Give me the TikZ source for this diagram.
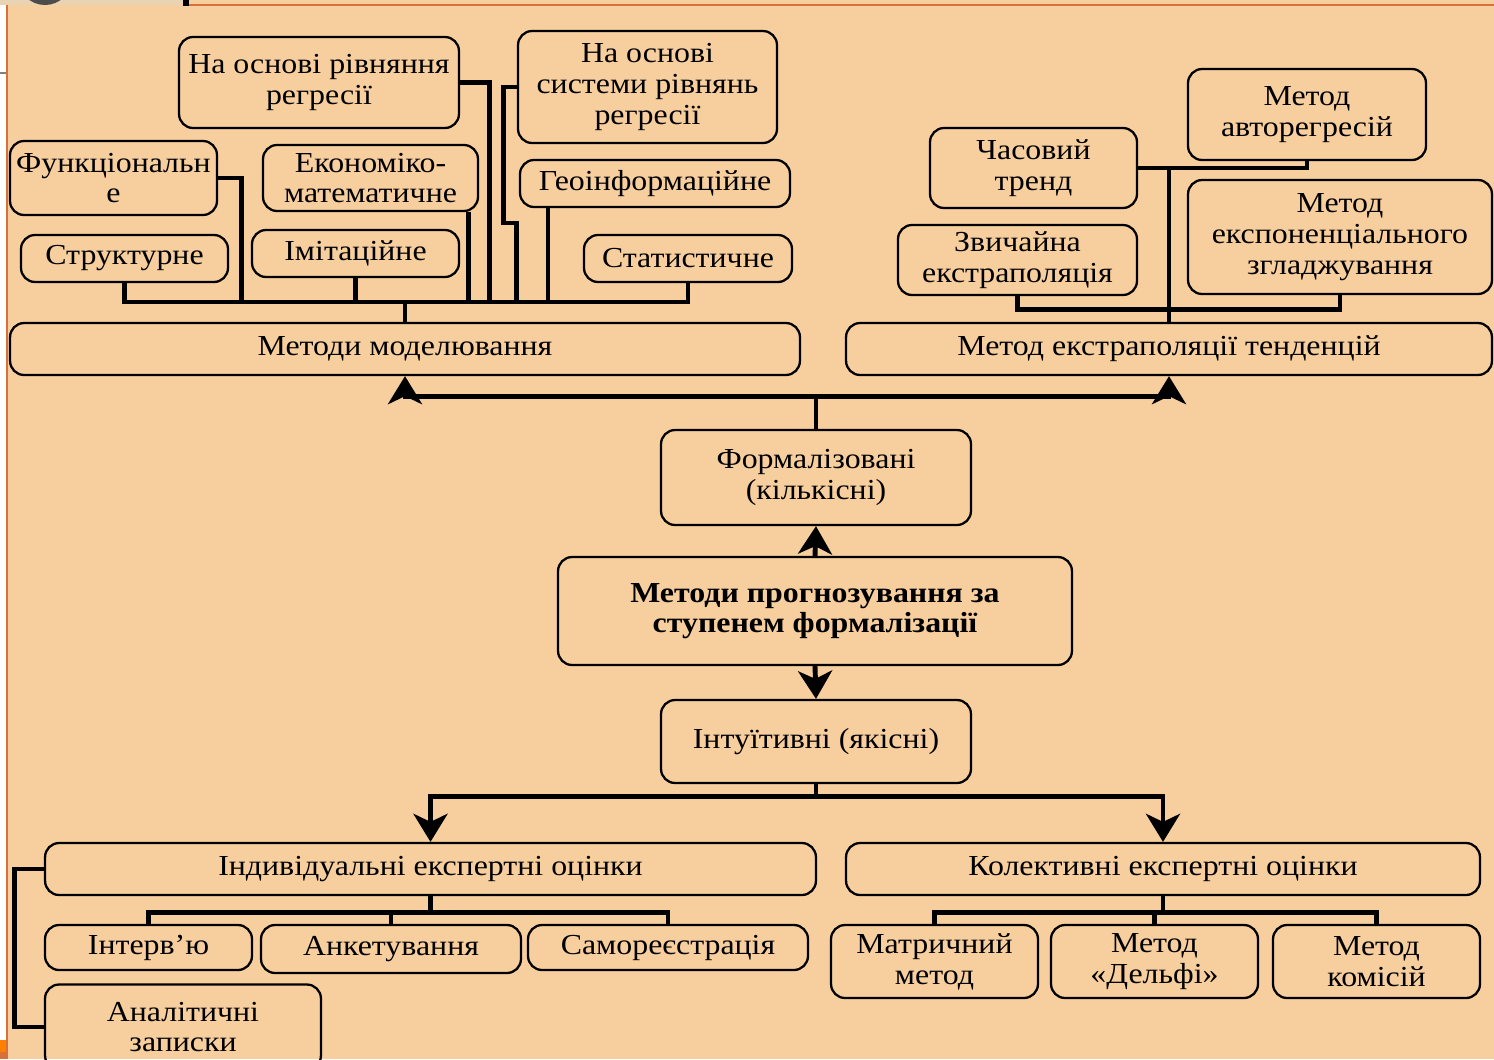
\documentclass[tikz,border=0pt]{standalone}
\usepackage{fontspec}
\setmainfont{Liberation Serif}[FakeStretch=1.1]
\usepackage{tikz}
\usetikzlibrary{arrows.meta}
\definecolor{peach}{HTML}{F7CE9E}
\definecolor{slideorange}{HTML}{D9703A}
\definecolor{topband}{HTML}{EAD3B2}

\begin{document}
\begin{tikzpicture}[x=0.02cm,y=-0.02cm,
   bx/.style={draw,line width=1.3pt,rounded corners=8pt,align=center,inner sep=1pt,
      font=\fontsize{16.5}{17.5}\selectfont},
   ln/.style={line width=2.8pt},
   arr/.style={ln,-{Stealth[length=0.56cm,width=0.68cm,inset=0.16cm]}}]
   \useasboundingbox (0,0) rectangle (1494,1059);
   \clip (0,0) rectangle (1494,1059);
   \fill[peach] (0,0) rectangle (1494,1059);
   \fill[white] (0,5) rectangle (6,1040);
   \fill[topband] (0,0) rectangle (183,5);
   \fill[black!70] (45,-22) circle (27);
   \fill[black] (183,0) rectangle (189,6);
   \draw[gray,line width=1pt] (0,73) -- (6,73);
   \fill[orange] (0,1040) rectangle (6,1052);
   \fill[slideorange] (0,1052) rectangle (6,1059);
   \draw[slideorange,line width=1.3pt] (189,5) -- (1494,5);
   \draw[slideorange,line width=1.3pt] (7,5) -- (7,1059);

   \node[bx,minimum width=5.6cm,minimum height=1.82cm] (rivn) at (319,82.5) {На основі рівняння\\регресії};
   \node[bx,minimum width=4.14cm,minimum height=1.48cm] (funk) at (113.5,178) {Функціональн\\е};
   \node[bx,minimum width=4.3cm,minimum height=1.32cm] (ekon) at (370.5,178) {Економіко-\\математичне};
   \node[bx,minimum width=4.14cm,minimum height=0.94cm] (strukt) at (124.5,258.5) {Структурне};
   \node[bx,minimum width=4.14cm,minimum height=0.94cm] (imit) at (355.5,253.5) {Імітаційне};
   \node[bx,minimum width=5.18cm,minimum height=2.24cm] (system) at (647.5,87) {На основі\\системи рівнянь\\регресії};
   \node[bx,minimum width=5.4cm,minimum height=0.94cm] (geo) at (655,183.5) {Геоінформаційне};
   \node[bx,minimum width=4.16cm,minimum height=0.94cm] (stat) at (688,258.5) {Статистичне};
   \node[bx,minimum width=15.8cm,minimum height=1.04cm] (model) at (405,349) {Методи моделювання};

   \node[bx,minimum width=4.76cm,minimum height=1.82cm] (avto) at (1307,114.5) {Метод\\авторегресій};
   \node[bx,minimum width=4.14cm,minimum height=1.6cm] (chas) at (1033.5,168) {Часовий\\тренд};
   \node[bx,minimum width=6.08cm,minimum height=2.28cm] (exp) at (1340,237) {Метод\\експоненціального\\згладжування};
   \node[bx,minimum width=4.78cm,minimum height=1.4cm] (zvych) at (1017.5,260) {Звичайна\\екстраполяція};
   \node[bx,minimum width=12.92cm,minimum height=1.04cm] (extrap) at (1169,349) {Метод екстраполяції тенденцій};

   \node[bx,minimum width=6.2cm,minimum height=1.9cm] (formal) at (816,477.5) {Формалізовані\\(кількісні)};
   \node[bx,minimum width=10.28cm,minimum height=2.16cm,font=\fontsize{16.5}{17.5}\selectfont\bfseries] (main) at (815,611) {Методи прогнозування за\\ступенем формалізації};
   \node[bx,minimum width=6.2cm,minimum height=1.66cm] (intuit) at (816,741.5) {Інтуїтивні (якісні)};

   \node[bx,minimum width=15.42cm,minimum height=1.04cm] (indiv) at (430.5,869) {Індивідуальні експертні оцінки};
   \node[bx,minimum width=4.14cm,minimum height=0.9cm] (interv) at (148.5,947.5) {Інтерв’ю};
   \node[bx,minimum width=5.2cm,minimum height=0.96cm] (anket) at (391,949) {Анкетування};
   \node[bx,minimum width=5.6cm,minimum height=0.9cm] (samo) at (668,947.5) {Самореєстрація};
   \node[bx,minimum width=5.52cm,minimum height=1.7cm] (analit) at (183,1027) {Аналітичні\\записки};
   \node[bx,minimum width=12.68cm,minimum height=1.04cm] (kolekt) at (1163,869) {Колективні експертні оцінки};
   \node[bx,minimum width=4.14cm,minimum height=1.46cm] (matr) at (934.5,961.5) {Матричний\\метод};
   \node[bx,minimum width=4.14cm,minimum height=1.46cm] (delfi) at (1154.5,961.5) {Метод\\«Дельфі»};
   \node[bx,minimum width=4.14cm,minimum height=1.46cm] (komis) at (1376.5,961.5) {Метод\\комісій};

   \coordinate (mbus) at (405,302);
   \draw[ln] (strukt.south) |- (stat.south |- mbus) -- (stat.south);
   \draw[ln] (funk.east) -- ++(23,0) |- (mbus);
   \draw[ln] (imit.south) |- (mbus);
   \draw[ln] ([xshift=-0.22cm]ekon.south east) -- ([xshift=-0.22cm]ekon.south east |- mbus);
   \draw[ln] (rivn.east) -- ++(29,0) |- (mbus);
   \draw[ln] (system.west) -- ++(-13,0) -- ++(0,136) -- ++(13,0) |- (mbus);
   \draw[ln] ([xshift=-2.14cm]geo.south) |- (mbus);
   \draw[ln] (mbus) -- (model.north);

   \draw[ln] (chas.east) -| (avto.south);
   \draw[ln] (chas.east -| extrap.north) -- (extrap.north);
   \draw[ln] (zvych.south) -- ++(0,13) -| (exp.south);

   \draw[ln] (formal.north) -- ++(0,-32) coordinate (ftop);
   \draw[arr] (ftop) -| (model.south);
   \draw[arr] (ftop) -| (extrap.south);
   \draw[arr] (main.north) -- (formal.south);
   \draw[arr] (main.south) -- (intuit.north);
   \draw[ln] (intuit.south) -- ++(0,12) coordinate (ibot);
   \draw[arr] (ibot) -| (indiv.north);
   \draw[arr] (ibot) -| (kolekt.north);

   \draw[ln] (indiv.south) -- ++(0,16) coordinate (ib);
   \draw[ln] (interv.north) |- (samo.north |- ib) -- (samo.north);
   \draw[ln] (anket.north) -- (anket.north |- ib);
   \draw[ln] (indiv.west) -- ++(-29,0) |- (analit.west);
   \draw[ln] (kolekt.south) -- ++(0,16) coordinate (kb);
   \draw[ln] (matr.north) |- (komis.north |- kb) -- (komis.north);
   \draw[ln] (delfi.north) -- (delfi.north |- kb);
\end{tikzpicture}
\end{document}
